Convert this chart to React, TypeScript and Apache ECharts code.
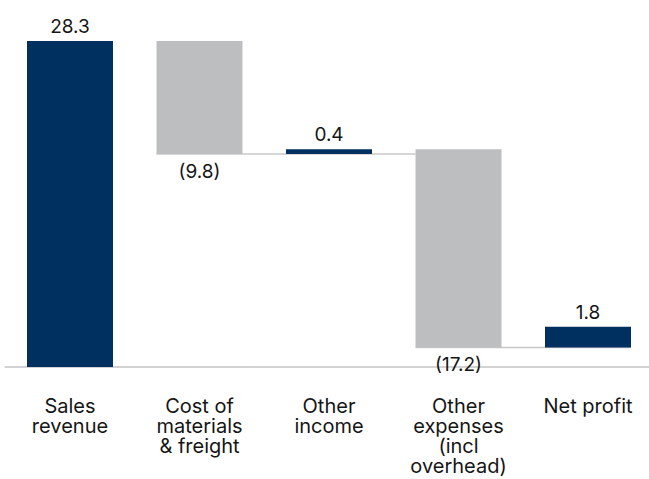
import React, { useEffect, useRef } from "react";
import * as echarts from "echarts";

const categories = [
  "Sales\nrevenue",
  "Cost of\nmaterials\n& freight",
  "Other\nincome",
  "Other\nexpenses\n(incl\noverhead)",
  "Net profit",
];
const changes = [28.3, -9.8, 0.4, -17.2, 1.8];
// connectors: from bar index (left edge) to bar index (edge), at running level
const connectors = [
  { from: 1, to: 3, toEdge: "left", level: 18.5 },
  { from: 3, to: 4, toEdge: "right", level: 1.7 },
];

const NAVY = "#00305f";
const GRAY = "#bdbec0";
const TEXT = "#151515";
const FONT = "Inter";
const BAR_FRAC = 0.664;

export default function App() {
  const ref = useRef<HTMLDivElement>(null);

  useEffect(() => {
    if (!ref.current) return;
    const chart = echarts.init(ref.current, undefined, { renderer: "svg" });

    const bases: number[] = [];
    let running = 0;
    changes.forEach((c) => {
      if (c >= 0) {
        bases.push(Math.round(running * 10) / 10);
      } else {
        bases.push(Math.round((running + c) * 10) / 10);
      }
      running = Math.round((running + c) * 10) / 10;
    });
    const heights = changes.map((c) => Math.abs(c));

    chart.setOption({
      animation: false,
      grid: { left: 5.25, width: 647.5, top: 21.4, height: 345.6 },
      xAxis: {
        type: "category",
        data: categories,
        axisLine: { lineStyle: { color: "#c4c4c4", width: 1.5 } },
        axisTick: { show: false },
        axisLabel: {
          interval: 0,
          margin: 29,
          color: TEXT,
          fontFamily: FONT,
          fontSize: 20,
          lineHeight: 20,
        },
      },
      yAxis: {
        type: "value",
        min: 0,
        max: 30,
        show: false,
        splitLine: { show: false },
      },
      series: [
        {
          type: "bar",
          stack: "w",
          data: bases,
          itemStyle: { color: "transparent" },
          silent: true,
          barWidth: BAR_FRAC * 100 + "%",
        },
        {
          type: "custom",
          z: 1,
          data: connectors.map((c) => [c.from, c.to, c.level, c.toEdge === "left" ? -1 : 1]),
          renderItem: (params: any, api: any) => {
            const from = api.value(0);
            const to = api.value(1);
            const level = api.value(2);
            const edge = api.value(3);
            const cw = api.size([1, 0])[0];
            const bw = cw * BAR_FRAC;
            const p1 = api.coord([from, level]);
            const p2 = api.coord([to, level]);
            return {
              type: "line",
              shape: {
                x1: p1[0] - bw / 2,
                y1: p1[1],
                x2: p2[0] + (edge * bw) / 2,
                y2: p2[1],
              },
              style: { stroke: "#c8c8c8", lineWidth: 1.5 },
            };
          },
        },
        {
          type: "bar",
          stack: "w",
          z: 3,
          barWidth: BAR_FRAC * 100 + "%",
          data: heights.map((h, i) => ({
            value: h,
            itemStyle: { color: changes[i] < 0 ? GRAY : NAVY },
            label: {
              show: true,
              position: changes[i] < 0 ? "bottom" : "top",
              distance: changes[i] < 0 ? 8 : 5,
              formatter: changes[i] < 0 ? "(" + h.toFixed(1) + ")" : h.toFixed(1),
              color: TEXT,
              fontFamily: FONT,
              fontSize: 19,
            },
          })),
        },
      ],
    });

    return () => chart.dispose();
  }, []);

  return (
    <div
      ref={ref}
      style={{ position: "fixed", left: 0, top: 0, width: 660, height: 479, background: "#fff" }}
    />
  );
}
